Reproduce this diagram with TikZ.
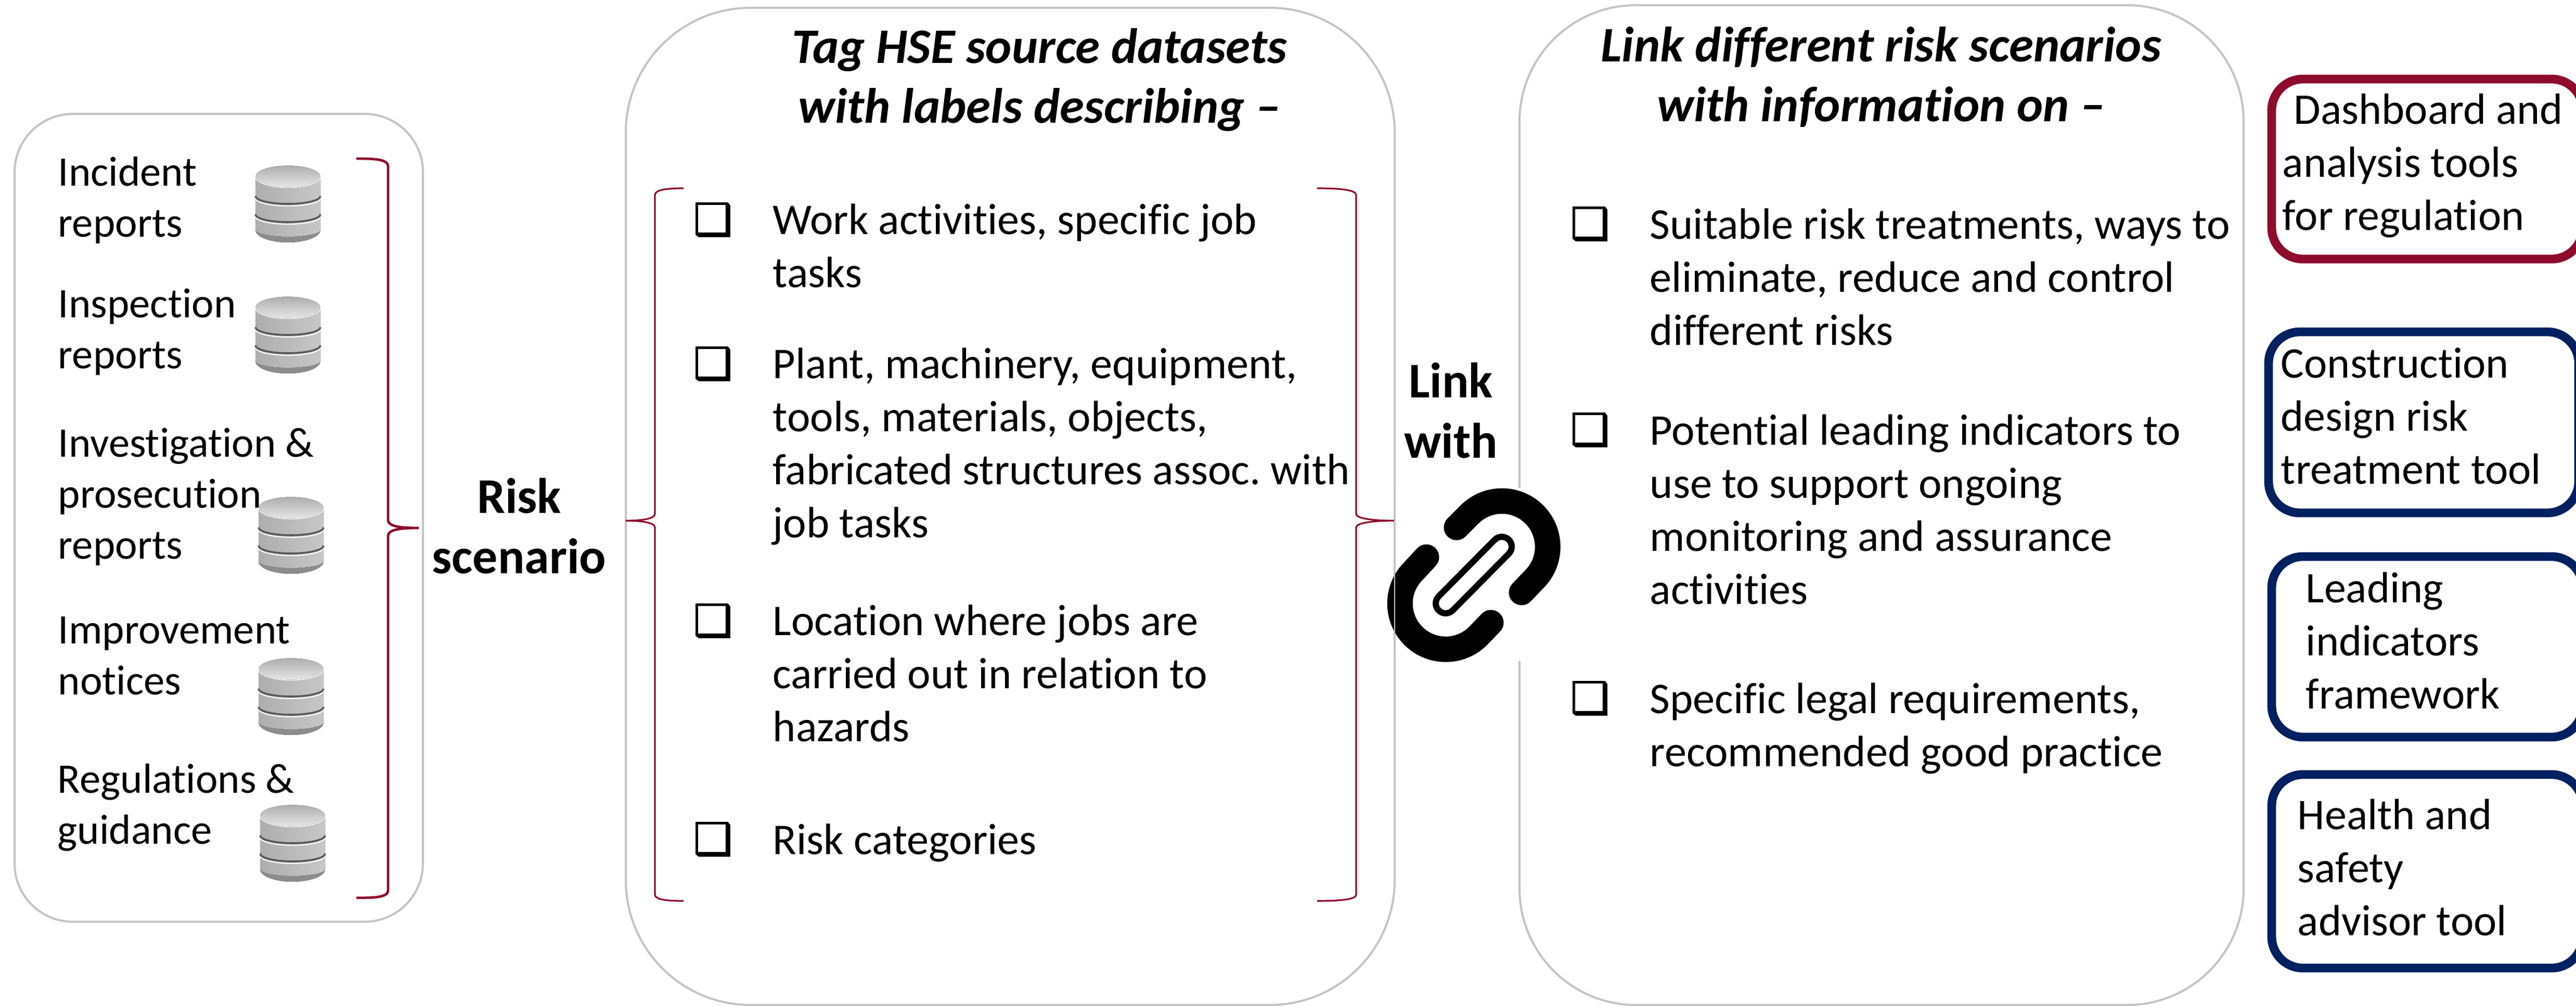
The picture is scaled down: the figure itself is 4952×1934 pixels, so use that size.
\documentclass[tikz,border=0pt]{standalone}
\usepackage{fontspec}
\setmainfont[Ligatures=NoCommon]{Carlito}
\newfontfamily\symfont[FakeBold=1.6]{DejaVu Sans}
\definecolor{crim}{HTML}{8E0B2E}
\definecolor{navy}{HTML}{012060}
\definecolor{edgegrey}{HTML}{C4C4C4}
\newcommand{\tstrut}{\rule{0pt}{20pt}}
\frenchspacing
\tikzset{
  x=0.25pt,y=-0.25pt,
  panel/.style={draw=edgegrey,line width=1pt,fill=white},
  brace/.style={draw=crim,line width=.8pt},
  body/.style={anchor=north west,inner sep=0pt,align=left,font=\fontsize{21.1}{25.5}\selectfont},
  lefttext/.style={anchor=north west,inner sep=0pt,align=left,font=\fontsize{20.2}{24.4}\selectfont},
  tooltext/.style={anchor=north west,inner sep=0pt,align=left,font=\fontsize{21}{25.5}\selectfont},
  headtext/.style={anchor=north,inner sep=0pt,align=center,font=\fontsize{23.85}{28.8}\selectfont\bfseries\itshape},
  boldtext/.style={anchor=north,inner sep=0pt,align=center,font=\fontsize{24}{29}\selectfont\bfseries},
  tick/.style={anchor=base west,inner sep=0pt,font=\symfont\fontsize{21}{25}\selectfont},
  toolred/.style={draw=crim,line width=4.2pt,rounded corners=15pt,fill=white},
  toolblue/.style={draw=navy,line width=4.2pt,rounded corners=15pt,fill=white},
  dbicon/.pic={
    % dark base rim
    \fill[left color=black!45,middle color=black!85,right color=black!45] (0,124) arc[start angle=180,end angle=0,x radius=62.5,y radius=24] -- cycle;
    % body
    \fill[left color=black!32,middle color=black!9,right color=black!22] (0,21) -- (125,21) -- (125,124) arc[start angle=0,end angle=180,x radius=62.5,y radius=13] -- cycle;
    % bands
    \draw[white,line width=.5pt] (0,63) arc[start angle=180,end angle=0,x radius=62.5,y radius=15];
    \draw[white,line width=.5pt] (0,98) arc[start angle=180,end angle=0,x radius=62.5,y radius=15];
    \draw[black!65,line width=.9pt] (0,59) arc[start angle=180,end angle=0,x radius=62.5,y radius=15];
    \draw[black!65,line width=.9pt] (0,94) arc[start angle=180,end angle=0,x radius=62.5,y radius=15];
    % top
    \draw[white,line width=.6pt] (0,21) arc[start angle=180,end angle=0,x radius=62.5,y radius=21];
    \fill[top color=black!32,bottom color=black!10] (62.5,21) ellipse[x radius=62,y radius=20.5];
  }
}
\begin{document}
\begin{tikzpicture}
\useasboundingbox (0,0) rectangle (4952,1934);
\fill[white] (0,0) rectangle (4952,1934);
% panels
\draw[panel,rounded corners=28pt] (28,219) rectangle (813,1772);
\draw[panel,rounded corners=60pt] (1203,15) rectangle (2681,1932);
\draw[panel,rounded corners=56pt] (2921,10) rectangle (4313,1932);
% left panel text
\node[lefttext] (t1) at (111,277) {\tstrut Incident\\reports};
\node[lefttext] (t2) at (111,530) {\tstrut Inspection\\reports};
\node[lefttext] (t3) at (111,798) {\tstrut Investigation \&\\prosecution\\reports};
\node[lefttext] (t4) at (111,1157) {\tstrut Improvement\\notices};
\node[lefttext] (t5) at (110,1444) {\tstrut Regulations \&\\guidance};
\pic at (491,318) {dbicon};
\pic at (491,570) {dbicon};
\pic at (497,955) {dbicon};
\pic at (497,1265) {dbicon};
\pic at (500,1547) {dbicon};
% left brace
\draw[brace,line width=1.2pt] (685,305) .. controls (715,305) and (746,305) .. (746,320) -- (746,1000) .. controls (746,1012) and (770,1015) .. (805,1015) .. controls (770,1015) and (746,1018) .. (746,1030) -- (746,1712) .. controls (746,1726) and (715,1726) .. (685,1726);
% risk scenario
\node[boldtext] (rs) at (998,906) {\tstrut Risk\\scenario};
% middle braces
\draw[brace] (1314,362) .. controls (1285,362) and (1259,364) .. (1259,375) -- (1259,988) .. controls (1259,997) and (1235,1001) .. (1203,1001) .. controls (1235,1001) and (1259,1005) .. (1259,1014) -- (1259,1720) .. controls (1259,1730) and (1285,1732) .. (1314,1732);
\draw[brace] (2532,362) .. controls (2570,362) and (2607,364) .. (2607,375) -- (2607,988) .. controls (2607,997) and (2640,1001) .. (2680,1001) .. controls (2640,1001) and (2607,1005) .. (2607,1014) -- (2607,1720) .. controls (2607,1730) and (2570,1732) .. (2532,1732);
% middle text
\node[headtext] (h1) at (1998,41) {\tstrut Tag HSE source datasets\\with labels describing --};
\node[tick] (c1) at (1332,451) {❑};
\node[tick] (c2) at (1332,728) {❑};
\node[tick] (c3) at (1332,1222) {❑};
\node[tick] (c4) at (1332,1642) {❑};
\node[body] (m1) at (1485,370) {\tstrut Work activities, specific job\\tasks};
\node[body] (m2) at (1485,647) {\tstrut Plant, machinery, equipment,\\tools, materials, objects,\\fabricated structures assoc. with\\job tasks};
\node[body] (m3) at (1485,1141) {\tstrut Location where jobs are\\carried out in relation to\\hazards};
\node[body] (m4) at (1485,1562) {\tstrut Risk categories};
% right text
\node[headtext] (h2) at (3616,38) {\tstrut Link different risk scenarios\\with information on --};
\node[tick] (c5) at (3018,459) {❑};
\node[tick] (c6) at (3018,855) {❑};
\node[tick] (c7) at (3018,1371) {❑};
\node[body] (r1) at (3171,379) {\tstrut Suitable risk treatments, ways to\\eliminate, reduce and control\\different risks};
\node[body] (r2) at (3171,775) {\tstrut Potential leading indicators to\\use to support ongoing\\monitoring and assurance\\activities};
\node[body] (r3) at (3171,1291) {\tstrut Specific legal requirements,\\recommended good practice};
% link icon
\fill[white] (2683,938) rectangle (2925,1271);
\draw[black,line width=12.25pt,line cap=round] (2800,1014) -- (2825,989) arc[start angle=225,end angle=405,radius=88] -- (2925,1139);
\draw[black,line width=12.25pt,line cap=round] (2742,1071) -- (2717,1098) arc[start angle=225,end angle=45,radius=88] -- (2866,1197);
\draw[black,line width=12.5pt,line cap=round] (2887,1051) -- (2779,1160);
\draw[white,line width=6.5pt,line cap=round] (2887,1051) -- (2779,1160);
\draw[edgegrey,line width=.5pt] (2681,938) -- (2681,1271);
\node[boldtext] (lw) at (2789,684) {\tstrut Link\\with};
% tool boxes
\draw[toolred] (4367,152) rectangle (4965,498);
\draw[toolblue] (4361,638) rectangle (4957,986);
\draw[toolblue] (4367,1070) rectangle (4965,1417);
\draw[toolblue] (4367,1489) rectangle (4965,1861);
\node[tooltext] (a) at (4387,158) {\tstrut\hspace*{5.5pt}Dashboard and\\analysis tools\\for regulation};
\node[tooltext] (b) at (4384,646) {\tstrut Construction\\design risk\\treatment tool};
\node[tooltext] (c) at (4432,1078) {\tstrut Leading\\indicators\\framework};
\node[tooltext] (d) at (4416,1514) {\tstrut Health and\\safety\\advisor tool};
\end{tikzpicture}
\end{document}
